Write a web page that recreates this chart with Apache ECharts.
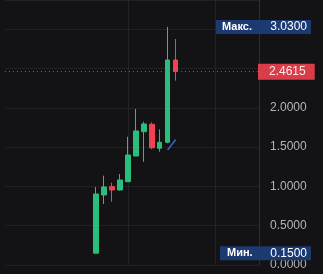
<!DOCTYPE html>
<html><head><meta charset="utf-8">
<script src="https://cdn.jsdelivr.net/npm/echarts@6/dist/echarts.min.js"></script>
<style>html,body{margin:0;padding:0;background:#131316;}#c{width:323px;height:274px;}</style>
</head><body><div id="c"></div>
<script>
// 32 time slots; candles occupy slots 11..21
const categories = Array.from({length: 32}, (_, i) => 'T' + (i + 1));
// [open, close, low, high]
const candleValues = [
  [0.15, 0.904, 0.15, 0.993],
  [0.891, 0.993, 0.776, 1.137],
  [0.997, 0.955, 0.806, 1.048],
  [0.955, 1.082, 0.948, 1.158],
  [1.06, 1.40, 1.057, 1.633],
  [1.387, 1.706, 1.387, 1.986],
  [1.697, 1.795, 1.315, 1.824],
  [1.791, 1.493, 1.473, 1.816],
  [1.486, 1.562, 1.442, 1.727],
  [1.562, 2.609, 1.549, 3.03],
  [2.609, 2.4615, 2.346, 2.877]
];
const firstCandleSlot = 11;
const trendLineValues = [1.465, 1.596]; // drawn line, slots 20..21
const trendLineStart = 20;
const maxValue = 3.03, minValue = 0.15, lastPrice = 2.4615;
const maxText = 'Макс.', minText = 'Мин.';
const yTickLabels = ['0.0000', '0.5000', '1.0000', '1.5000', '2.0000'];
const vGridSlots = [15, 26];

const candleData = categories.map((c, i) => {
  const j = i - firstCandleSlot;
  return (j >= 0 && j < candleValues.length) ? candleValues[j] : '-';
});
const trendData = categories.map((c, i) => {
  const j = i - trendLineStart;
  return (j >= 0 && j < trendLineValues.length) ? trendLineValues[j] : null;
});

const GREEN = '#2bbd7c', RED = '#f0434f';
const NONE = 'rgba(0,0,0,0)';
const chart = echarts.init(document.getElementById('c'), null, {renderer: 'canvas'});
chart.setOption({
  backgroundColor: '#131316',
  animation: false,
  grid: {left: 4.9, right: 64, top: 0, bottom: 9},
  xAxis: {
    type: 'category', data: categories, boundaryGap: true,
    axisLine: {show: false}, axisTick: {show: false}, axisLabel: {show: false},
    splitLine: {show: true, alignWithLabel: true, interval: (i) => vGridSlots.indexOf(i) >= 0,
      lineStyle: {color: '#232327', width: 1}}
  },
  yAxis: {
    type: 'value', position: 'right', min: 0, max: 3.373, interval: 0.5,
    axisLine: {show: true, lineStyle: {color: '#2c2c31'}},
    axisTick: {show: false},
    splitLine: {show: true, lineStyle: {color: '#222226', width: 1}},
    axisLabel: {
      show: true, showMaxLabel: false, margin: 11, color: '#b4b5ba', fontSize: 12,
      fontFamily: 'Liberation Sans', align: 'left',
      formatter: (v) => { const s = v.toFixed(4); return yTickLabels.indexOf(s) >= 0 ? s : ''; }
    }
  },
  series: [
    {
      type: 'candlestick', data: candleData, barWidth: 5, z: 3,
      itemStyle: {color: GREEN, color0: RED, borderColor: GREEN, borderColor0: RED, borderWidth: 1},
      markLine: {
        symbol: ['none', 'none'], silent: true, animation: false, z: 10,
        data: [
          {yAxis: lastPrice, lineStyle: {color: RED, type: [1, 3], width: 1, opacity: 0.9},
            label: {show: true, position: 'end', distance: -1, formatter: lastPrice.toFixed(4),
              backgroundColor: RED, color: '#ffffff', fontSize: 12, fontFamily: 'Liberation Sans',
              padding: [2, 9, 2, 11], lineHeight: 12}},
          {yAxis: maxValue, lineStyle: {color: NONE, width: 1},
            label: {show: true, position: 'end', distance: -43,
              formatter: '{a|' + maxText + '}{b|' + maxValue.toFixed(4) + '}',
              backgroundColor: '#1c3a72', padding: [1, 4, 1, 6],
              rich: {a: {color: '#ffffff', fontSize: 11, fontWeight: 'bold', fontFamily: 'Liberation Sans', width: 40, lineHeight: 12},
                     b: {color: '#ffffff', fontSize: 12, fontFamily: 'Liberation Sans', width: 45, align: 'right', lineHeight: 12}}}},
          {yAxis: minValue, lineStyle: {color: NONE, width: 1},
            label: {show: true, position: 'end', distance: -39,
              formatter: '{a|' + minText + '}{b|' + minValue.toFixed(4) + '}',
              backgroundColor: '#1c3a72', padding: [1, 4, 1, 7],
              rich: {a: {color: '#ffffff', fontSize: 11, fontWeight: 'bold', fontFamily: 'Liberation Sans', width: 35, lineHeight: 12},
                     b: {color: '#ffffff', fontSize: 12, fontFamily: 'Liberation Sans', width: 45, align: 'right', lineHeight: 12}}}}
        ]
      }
    },
    {
      type: 'line', data: trendData, symbol: 'none', connectNulls: false, z: 4,
      lineStyle: {color: '#3b6fd8', width: 1.5}
    }
  ]
});
</script></body></html>
